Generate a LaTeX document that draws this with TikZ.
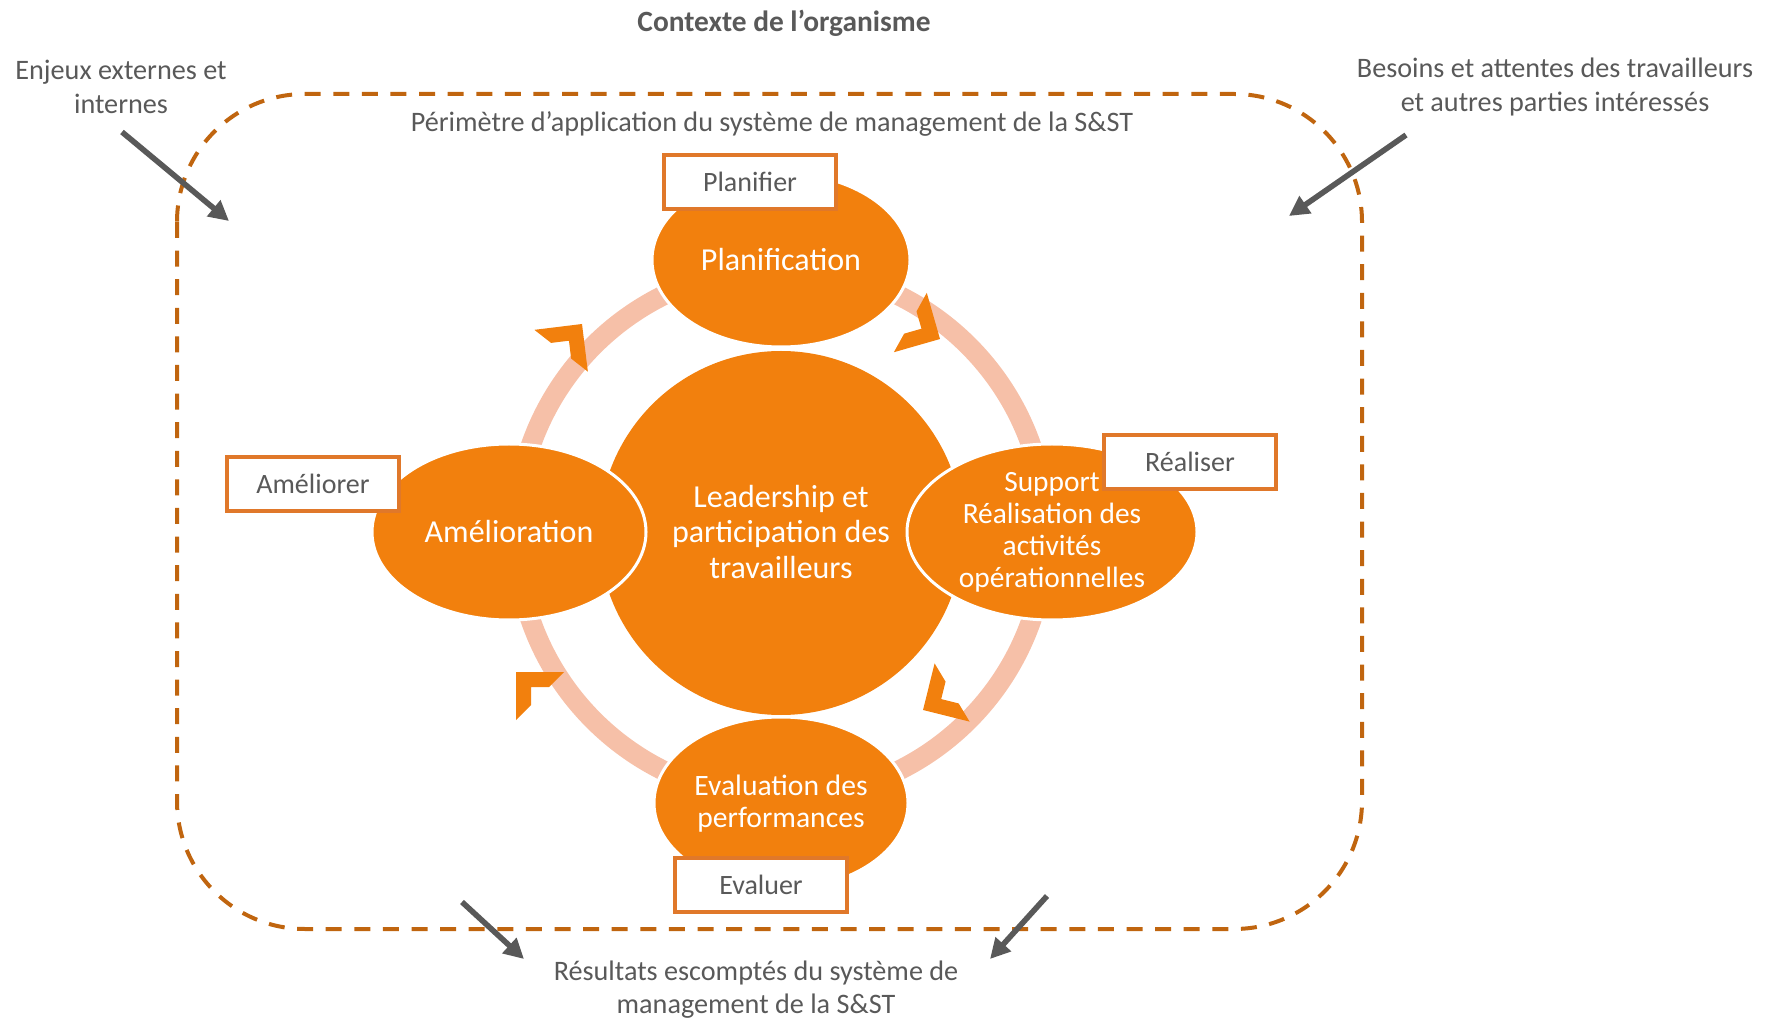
\documentclass[tikz,border=0pt]{standalone}
\usepackage{fontspec}
\setmainfont{Carlito}
\usetikzlibrary{arrows.meta}
\definecolor{org}{HTML}{F2800D}
\definecolor{ringc}{HTML}{F6C0A8}
\definecolor{dashc}{HTML}{C0650F}
\definecolor{txt}{HTML}{595959}
\definecolor{boxc}{HTML}{E0782A}
\begin{document}
\begin{tikzpicture}[x=0.5pt,y=-0.5pt,
  lbl/.style={text=txt, align=center, font=\fontsize{14.1pt}{16.6pt}\selectfont},
  intxt/.style={text=white, align=center},
  sat/.style={draw=white, line width=1.5pt, fill=org},
  tagbox/.style={draw=boxc, line width=2pt, fill=white, text=txt, minimum width=86pt, minimum height=27pt, inner sep=0pt, font=\fontsize{14pt}{17pt}\selectfont},
  garrow/.style={draw=txt, line width=2.8pt, -{Triangle[length=10pt,width=10pt]}},
  chev/.pic={\fill[org] (0,0)--(48,0)--(33,15)--(15,15)--(15,33)--(0,48)--cycle;}
]
\useasboundingbox (0,0) rectangle (1765,1020);

% title and outside texts
\node[text=txt, font=\bfseries\fontsize{14.7pt}{17pt}\selectfont] (title) at (784,23) {Contexte de l’organisme};
\node[lbl] (enjeux) at (121,87) {Enjeux externes et\\internes};
\node[lbl] (besoins) at (1555,87) {Besoins et attentes des travailleurs\\et autres parties intéressés};
\node[lbl] (perim) at (772,124) {Périmètre d’application du système de management de la S\&ST};
\node[lbl] (result) at (756,990) {Résultats escomptés du système de\\management de la S\&ST};

% dashed frame
\draw[dashc, line width=2pt, dash pattern=on 8pt off 6.3pt, rounded corners=64pt] (177,94) rectangle (1362,929);

% ring
\draw[ringc, line width=10pt] (781,533) circle (265);

% chevrons
\pic[rotate=0] at (516,672) {chev};
\pic[rotate=-83] at (582,324) {chev};
\pic[rotate=-164] at (940,339) {chev};
\pic[rotate=76] at (923,710) {chev};

% central circle and satellites
\fill[org] (781,533) circle (182);
\node[intxt, font=\fontsize{16pt}{17.8pt}\selectfont] (lead) at (781,532) {Leadership et\\participation des\\travailleurs};

\draw[sat] (781,260) ellipse [x radius=129, y radius=87];
\node[intxt, font=\fontsize{16pt}{19pt}\selectfont] (plan) at (781,260) {Planification};

\draw[sat] (509,532) ellipse [x radius=137, y radius=88];
\node[intxt, font=\fontsize{16pt}{19pt}\selectfont] (amel) at (509,532) {Amélioration};

\draw[sat] (1052,532) ellipse [x radius=145, y radius=88];
\node[intxt, font=\fontsize{14.7pt}{16pt}\selectfont] (supp) at (1052,532) {Support\\Réalisation des\\activités\\opérationnelles};

\draw[sat] (781,803) ellipse [x radius=127, y radius=86];
\node[intxt, font=\fontsize{14.8pt}{16pt}\selectfont] (eval) at (781,804) {Evaluation des\\performances};

% tag boxes
\node[tagbox] (planifier) at (750,182) {Planifier};
\node[tagbox] (realiser) at (1190,462) {Réaliser};
\node[tagbox] (ameliorer) at (313,484) {Améliorer};
\node[tagbox] (evaluer) at (761,885) {Evaluer};

% arrows
\coordinate (a1s) at (122,132); \coordinate (a1e) at (229,221);
\coordinate (a2s) at (1406,135); \coordinate (a2e) at (1289,216);
\coordinate (a3s) at (462,902); \coordinate (a3e) at (524,959);
\coordinate (a4s) at (1047,896); \coordinate (a4e) at (990,959);
\draw[garrow] (a1s) -- (a1e);
\draw[garrow] (a2s) -- (a2e);
\draw[garrow] (a3s) -- (a3e);
\draw[garrow] (a4s) -- (a4e);
\end{tikzpicture}
\end{document}
